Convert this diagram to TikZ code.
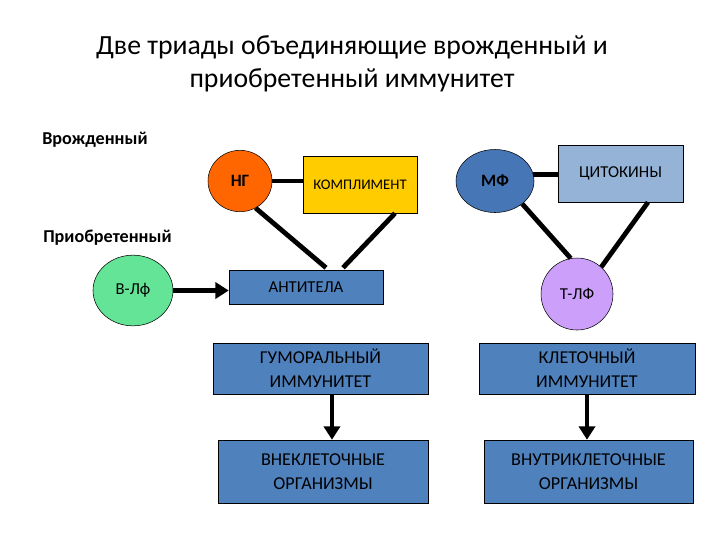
\documentclass[tikz,border=0pt]{standalone}
\usepackage{fontspec}
\setmainfont{Carlito}
\usetikzlibrary{positioning}
\usetikzlibrary{arrows.meta}
\usetikzlibrary{shapes.geometric}
\definecolor{ngc}{RGB}{255,102,0}
\definecolor{complc}{RGB}{255,204,0}
\definecolor{boxc}{RGB}{79,129,189}
\definecolor{mfc}{RGB}{70,118,182}
\definecolor{cytc}{RGB}{149,179,215}
\definecolor{tlfc}{RGB}{204,160,250}
\definecolor{blfc}{RGB}{100,228,150}

\begin{document}
\begin{tikzpicture}[x=0.75pt,y=-0.75pt,
  cell/.style={draw,shape=rectangle,fill=boxc,align=center,inner sep=0pt,
    font=\fontsize{12.5}{17}\selectfont},
  twoline/.style={cell,font=\fontsize{13.6}{18}\selectfont},
  blob/.style={draw,shape=ellipse,inner sep=0pt,font=\fontsize{12.5}{15}\selectfont},
  side/.style={anchor=west,inner sep=0pt,font=\bfseries\fontsize{13.6}{16}\selectfont},
  link/.style={line width=3.6pt},
  arr/.style={line width=3.6pt,-{Triangle[length=10pt,width=12pt]}}]
\useasboundingbox (0,0) rectangle (720,540);

\node[align=center,font=\fontsize{20.8}{24.75}\selectfont] (title) at (352,64)
{Две триады объединяющие врожденный и\\приобретенный иммунитет};
\node[side] (innate) at (42,140) {Врожденный};
\node[side] (acquired) at (43,238) {Приобретенный};

% first triad
\node[blob,fill=ngc,minimum width=48pt,minimum height=46pt,font=\bfseries\fontsize{13}{15}\selectfont]
(ng) at (240,181) {НГ};
\node[cell,fill=complc,minimum width=85.5pt,minimum height=42.75pt,font=\fontsize{11}{13}\selectfont]
(compl) at (360,184.5) {КОМПЛИМЕНТ};
\node[cell,minimum width=115.5pt,minimum height=25.5pt] (anti) at (306,287) {АНТИТЕЛА};
\node[blob,fill=blfc,minimum width=60pt,minimum height=53pt] (blf) at (133,290.5) {В-Лф};

% second triad
\node[blob,fill=mfc,minimum width=58.5pt,minimum height=47.25pt,font=\bfseries\fontsize{13}{15}\selectfont]
(mf) at (495,181) {МФ};
\node[cell,fill=cytc,minimum width=93.75pt,minimum height=42.75pt] (cyt) at (620.5,173.5) {ЦИТОКИНЫ};
\node[blob,fill=tlfc,minimum width=54pt,minimum height=54pt] (tlf) at (577,294) {Т-ЛФ};

% immunity
\node[twoline,minimum width=161.25pt,minimum height=38.25pt] (hum) at (320.5,368.5) {ГУМОРАЛЬНЫЙ\\ИММУНИТЕТ};
\node[twoline,minimum width=162pt,minimum height=38.25pt] (clt) at (587,368.5) {КЛЕТОЧНЫЙ\\ИММУНИТЕТ};
\node[twoline,minimum width=157.5pt,minimum height=47.25pt] (ext) at (323,471.5) {ВНЕКЛЕТОЧНЫЕ\\ОРГАНИЗМЫ};
\node[twoline,minimum width=156.75pt,minimum height=47.25pt] (intra) at (588.5,471.5) {ВНУТРИКЛЕТОЧНЫЕ\\ОРГАНИЗМЫ};

\draw[link] (ng.east) -- (ng.east -| compl.west);
\draw[link] (ng.-60) -- ([xshift=15pt,yshift=1.5pt]anti.north);
\draw[link] ([xshift=27.75pt,yshift=1.5pt]anti.north) -- ([xshift=26.25pt]compl.south);
\draw[link] (mf.10) -- (mf.10 -| cyt.west);
\draw[link] (mf.-40) -- (tlf.100);
\draw[link] ([xshift=20.6pt]cyt.south) -- (tlf.48);
\draw[arr] (blf.east) -- (blf.east -| anti.west);
\draw[arr] ([xshift=8.6pt]hum.south) -- ([xshift=8.6pt]hum.south |- ext.north);
\draw[arr] (clt.south) -- (clt.south |- intra.north);

\end{tikzpicture}
\end{document}
